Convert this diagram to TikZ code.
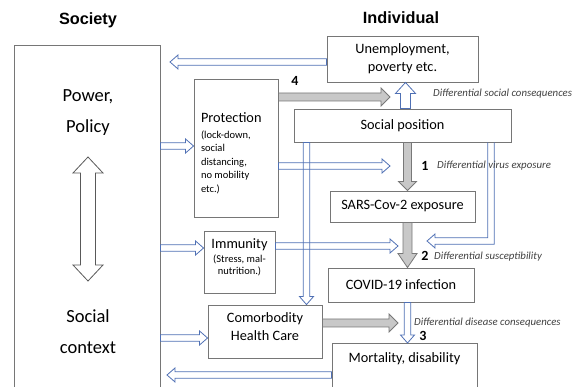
\documentclass[tikz,border=0pt]{standalone}
\usepackage{fontspec}
\setmainfont{Carlito}
\newfontfamily\headfont{Liberation Sans}
\usetikzlibrary{calc,backgrounds}

\definecolor{arrblue}{RGB}{79,112,180}
\definecolor{boxgray}{RGB}{118,118,118}
\definecolor{tipgray}{RGB}{200,200,200}
\definecolor{rimgray}{RGB}{120,120,120}

\newcommand\smallfont{\fontsize{10.5}{13.6}\selectfont}

\tikzset{
  box/.style={draw=boxgray, line width=0.9pt, inner sep=0pt, align=flush center,
    font=\fontsize{14.3}{18}\selectfont},
  head/.style={font=\headfont\bfseries\fontsize{16.3}{19}\selectfont},
  bigtext/.style={align=center, font=\fontsize{18.5}{31}\selectfont},
  note/.style={anchor=west, inner sep=0pt, text=black!75,
    font=\itshape\fontsize{10.8}{13}\selectfont},
  num/.style={font=\bfseries\fontsize{14}{16}\selectfont},
  % block arrow outline: half shaft, half head, head length
  blockto/.style n args={3}{to path={
    ($(\tikztotarget)!#3!(\tikztostart)$) coordinate (tb)
    ($(\tikztostart)!#1!90:(\tikztotarget)$) -- ($(tb)!#1!90:(\tikztotarget)$)
    -- ($(tb)!#2!90:(\tikztotarget)$) -- (\tikztotarget)
    -- ($(tb)!#2!-90:(\tikztotarget)$) -- ($(tb)!#1!-90:(\tikztotarget)$)
    -- ($(\tikztostart)!#1!-90:(\tikztotarget)$) -- cycle}},
  twoto/.style n args={3}{to path={
    ($(\tikztotarget)!#3!(\tikztostart)$) coordinate (tb)
    ($(\tikztostart)!#3!(\tikztotarget)$) coordinate (ta)
    (\tikztostart) -- ($(ta)!#2!90:(\tikztotarget)$) -- ($(ta)!#1!90:(\tikztotarget)$)
    -- ($(tb)!#1!90:(\tikztotarget)$) -- ($(tb)!#2!90:(\tikztotarget)$)
    -- (\tikztotarget) -- ($(tb)!#2!-90:(\tikztotarget)$) -- ($(tb)!#1!-90:(\tikztotarget)$)
    -- ($(ta)!#1!-90:(\tikztotarget)$) -- ($(ta)!#2!-90:(\tikztotarget)$) -- cycle}},
  hollowline/.style={draw=arrblue, line width=0.8pt, line join=miter},
  hollow/.style={hollowline, blockto={3.2pt}{7pt}{8pt}},
  widehollow/.style={hollowline, blockto={5pt}{10pt}{11pt}},
  shade/.style={draw=rimgray, fill=tipgray, line width=0.8pt, line join=miter,
    blockto={4pt}{9pt}{9pt}},
  twoway/.style={draw=black!65, line width=0.8pt, line join=miter,
    twoto={7.5pt}{15pt}{16pt}},
}

\begin{document}
\begin{tikzpicture}[x=1pt, y=-1pt]
  \useasboundingbox (0,0) rectangle (579,387);
  \clip (0,0) rectangle (579,387);

  % draw headings
  \node[head] (society) at (88,20) {Society};
  \node[head] (individual) at (401,18) {Individual};

  % draw society box
  \node[box, minimum width=146pt, minimum height=360pt] (policy) at (87,225) {};
  \node[bigtext] (power) at (88,113) {Power,\\Policy};
  \node[bigtext] (context) at (88,332) {Social\\context};
  \coordinate (dtop) at (88,157);
  \coordinate (dbot) at (88,281);

  % draw individual boxes
  \node[box, minimum width=151pt, minimum height=46pt] (unemp) at (402.5,59) {Unemployment,\\poverty etc.};
  \node[box, minimum width=217pt, minimum height=33pt] (sp) at (402.5,125.5) {Social position};
  \node[box, minimum width=145pt, minimum height=31pt] (sars) at (402.5,206.5) {SARS-Cov-2 exposure};
  \node[box, minimum width=146pt, minimum height=34pt] (covid) at (401,285) {COVID-19 infection};
  \node[box, anchor=north, minimum width=145pt, text height=15pt, text depth=42pt, inner ysep=4pt] (mort) at (404.5,343) {Mortality, disability};

  % draw boxes in between
  \node[box, minimum width=84pt, text width=70pt, align=flush left, text height=43.5pt, text depth=94.5pt] (prot) at (236,148)
    {Protection\\[2pt]\smallfont (lock-down,\\social\\distancing,\\no mobility\\etc.)\par};
  \node[box, minimum width=71pt, text width=71pt, text height=17.5pt, text depth=44.5pt] (imm) at (239.5,262)
    {Immunity\\[2pt]\fontsize{10.5}{12}\selectfont (Stress, mal-\\nutrition.)\par};
  \node[box, minimum width=114pt, text width=114pt, text height=17.5pt, text depth=35.5pt] (comor) at (265,331.5)
    {Comorbodity\\Health Care};

  % free ends of arrows
  \coordinate (col) at (407.5,0);
  \coordinate (lcol) at (306.5,0);
  \coordinate (backtop) at (170,62);
  \coordinate (backbot) at (167,375);
  \coordinate (tip4) at (390,97);
  \coordinate (tipprot) at (390,166);
  \coordinate (tipimm) at (398,246);
  \coordinate (tipcom) at (398,323);
  \coordinate (bendr) at (491,241);
  \coordinate (tipsusc) at (427,241);

  % draw arrows
  \draw[twoway] (dtop) to (dbot);
  \draw[hollow] (unemp.west |- backtop) to (backtop);
  \draw[hollow] (mort.west |- backbot) to (backbot);
  \foreach \tgt/\y in {prot/146, imm/248, comor/338}
    \draw[hollow] (policy.east |- 0,\y) to (\tgt.west |- 0,\y);
  \draw[hollow] (sp.south -| lcol) to (comor.north -| lcol);
  \draw[hollowline] ([xshift=3.2pt]sp.south -| bendr) |- ([xshift=8pt, yshift=-3.2pt]tipsusc)
    -- ([xshift=8pt, yshift=-7pt]tipsusc) -- (tipsusc) -- ([xshift=8pt, yshift=7pt]tipsusc)
    -- ([xshift=8pt, yshift=3.2pt]tipsusc) -| ([xshift=-3.2pt]sp.south -| bendr);
  \draw[hollow] (prot.east |- tipprot) to (tipprot);
  \draw[hollow] (imm.east |- tipimm) to (tipimm);
  \draw[widehollow] ([xshift=3pt]sp.north) to ([xshift=3pt]unemp.south);
  \draw[shade] (prot.east |- tip4) to (tip4);
  \draw[shade] (sp.south -| col) to (sars.north -| col);
  \draw[shade, blockto={4.5pt}{9.5pt}{14pt}] (sars.south -| col) to (covid.north -| col);
  \draw[shade] (comor.east |- tipcom) to (tipcom);
  \draw[hollow] (covid.south -| col) to (mort.north -| col);

  % draw labels
  \node[num] (n4) at (295,81) {4};
  \node[num] (n1) at (425,166) {1};
  \node[num] (n2) at (425,256) {2};
  \node[num] (n3) at (423,336) {3};
  \node[note] (socc) at (433,94) {Differential social consequences};
  \node[note] (virus) at (437,166) {Differential virus exposure};
  \node[note] (susc) at (434,257) {Differential susceptibility};
  \node[note] (dis) at (414,323) {Differential disease consequences};
\end{tikzpicture}
\end{document}
